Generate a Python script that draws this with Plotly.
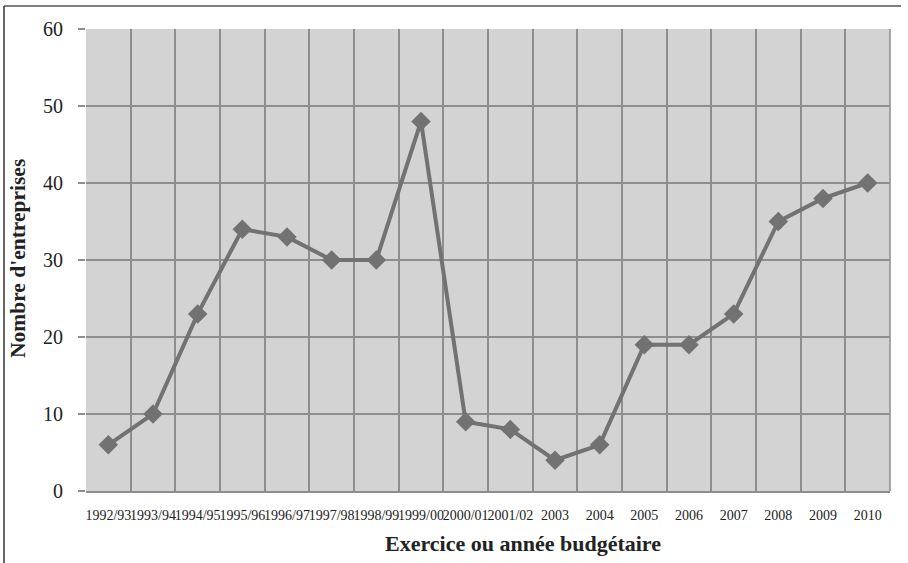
import plotly.graph_objects as go

categories = ["1992/93", "1993/94", "1994/95", "1995/96", "1996/97", "1997/98",
              "1998/99", "1999/00", "2000/01", "2001/02", "2003", "2004",
              "2005", "2006", "2007", "2008", "2009", "2010"]
values = [6, 10, 23, 34, 33, 30, 30, 48, 9, 8, 4, 6, 19, 19, 23, 35, 38, 40]
y_ticks = [0, 10, 20, 30, 40, 50, 60]

W, H = 908, 563
L, R, T, B = 86, 18, 29, 72
pw, ph = W - L - R, H - T - B

fig = go.Figure()
fig.add_trace(go.Scatter(
    x=categories, y=values, mode="lines+markers",
    line=dict(color="#727272", width=4),
    marker=dict(symbol="diamond", size=15, color="#727272"),
    showlegend=False,
))

serif = "Liberation Serif, Times New Roman, serif"
fig.update_layout(
    width=W, height=H,
    margin=dict(l=L, r=R, t=T, b=B),
    paper_bgcolor="white",
    plot_bgcolor="#d3d3d3",
    font=dict(family=serif, color="#222222"),
    xaxis=dict(
        type="category", tickson="boundaries", showgrid=True,
        gridcolor="#8e8e8e", gridwidth=1.5,
        ticks="", tickangle=0, automargin=False,
        tickfont=dict(size=14, family=serif, color="#222222"),
        ticklabelstandoff=10,
        showline=True, linecolor="#8e8e8e", linewidth=1.5, mirror=False,
        range=[-0.5, len(categories) - 0.5],
        zeroline=False,
    ),
    yaxis=dict(
        range=[0, 60], tickvals=y_ticks, showgrid=True,
        gridcolor="#8e8e8e", gridwidth=1.5, automargin=False,
        ticks="outside", ticklen=7, tickcolor="#8e8e8e", tickwidth=1.5,
        tickfont=dict(size=20, family=serif, color="#222222"),
        ticklabelstandoff=11,
        showline=False, zeroline=False,
    ),
    annotations=[
        dict(text="<b>Exercice ou année budgétaire</b>", xref="paper", yref="paper",
             x=(523 - L) / pw, y=-(543 - (T + ph)) / ph, xanchor="center", yanchor="middle",
             showarrow=False, font=dict(size=22, family=serif, color="#222222")),
        dict(text="<b>Nombre d'entreprises</b>", xref="paper", yref="paper",
             x=(18 - L) / pw, y=1 - (259 - T) / ph, xanchor="center", yanchor="middle",
             textangle=-90, showarrow=False,
             font=dict(size=21.5, family=serif, color="#222222")),
    ],
    shapes=[
        dict(type="line", xref="paper", yref="paper",
             x0=(4 - L) / pw, x1=(901 - L) / pw,
             y0=1 + (T - 6) / ph, y1=1 + (T - 6) / ph,
             line=dict(color="#555555", width=1.5)),
        dict(type="line", xref="paper", yref="paper",
             x0=(4 - L) / pw, x1=(4 - L) / pw,
             y0=1 + (T - 6) / ph, y1=-(B) / ph,
             line=dict(color="#333333", width=1.5)),
        dict(type="line", xref="paper", yref="paper",
             x0=1, x1=1, y0=0, y1=1,
             line=dict(color="#8e8e8e", width=1.5)),
    ],
)

fig.write_html("out.html")
